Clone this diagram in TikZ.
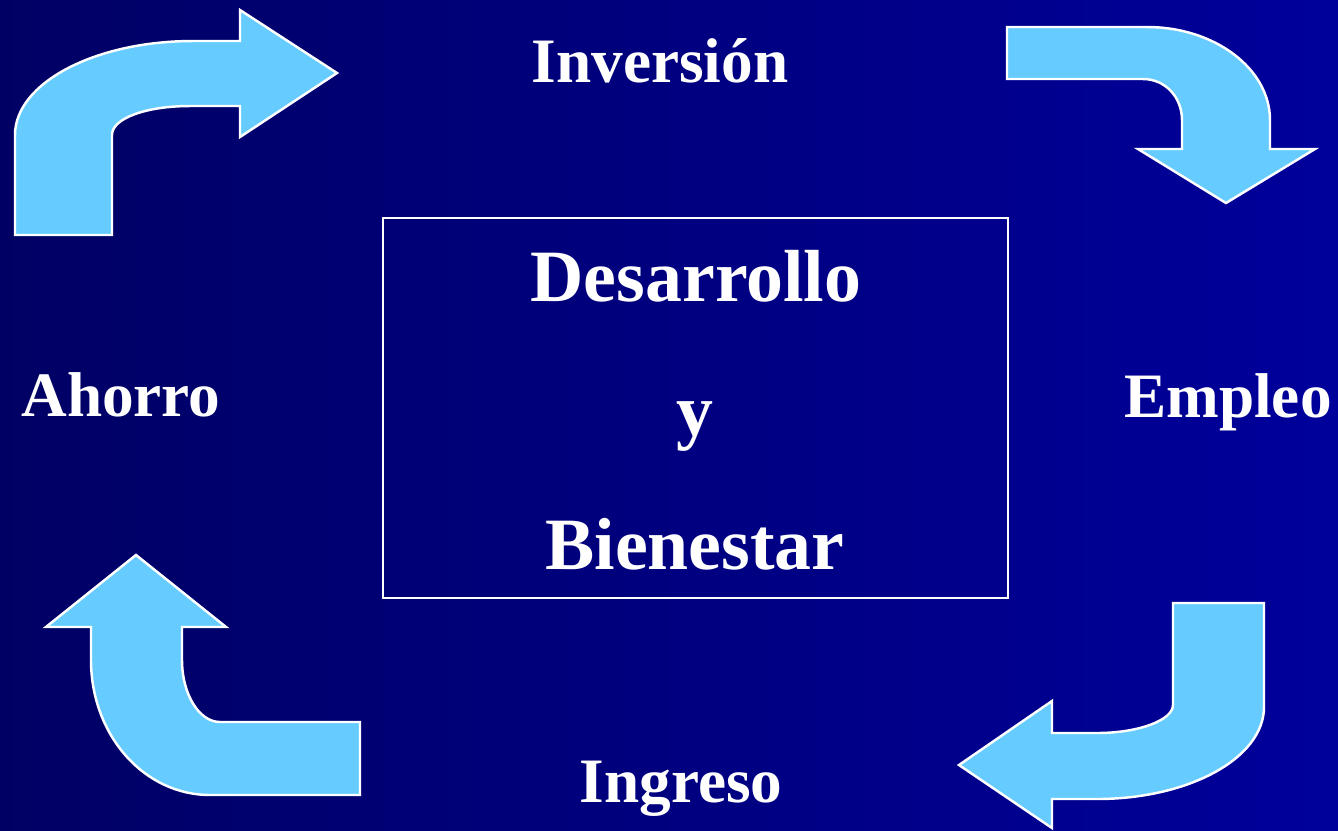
\documentclass[tikz,border=0pt]{standalone}
\usepackage{fontspec}
\setmainfont{Liberation Serif}
\usepackage{xcolor}
\usepackage{tikz}
\usetikzlibrary{positioning}
\definecolor{bgleft}{RGB}{0,0,100}
\definecolor{bgright}{RGB}{0,0,155}
\definecolor{arrowblue}{RGB}{102,204,255}
\tikzstyle{bent} = [fill=arrowblue, draw=white, line width=0.7pt, line join=miter]
\tikzstyle{label} = [text=white, anchor=base, font=\fontsize{18}{20}\selectfont\bfseries]
\tikzstyle{title} = [text=white, anchor=base, font=\fontsize{21}{24}\selectfont\bfseries]
\tikzstyle{frame} = [rectangle, draw=white, line width=0.7pt, minimum width=6.25cm, minimum height=3.8cm]

\begin{document}
\begin{tikzpicture}
		\shade[left color=bgleft, right color=bgright] (0,0) rectangle (13.38,-8.30);
		\useasboundingbox (0,0) rectangle (13.38,-8.30);
		
		\node (box) [frame] at (6.955,-4.08) {};
		\node (des) [title] at (6.96,-3.01) {Desarrollo};
		\node (y) [title] at (6.95,-4.35) {y};
		\node (bie) [title] at (6.95,-5.69) {Bienestar};
		
		\node (inv) [label] at (6.60,-0.82) {Inversión};
		\node (emp) [label] at (12.28,-4.17) {Empleo};
		\node (ing) [label] at (6.81,-8.02) {Ingreso};
		\node (aho) [label] at (1.21,-4.16) {Ahorro};
		
		%flechas curvas
		\draw [bent] (0.15,-2.35) -- (0.15,-1.35) .. controls (0.15,-0.83) and (0.95,-0.41) .. (1.93,-0.41)
			-- (2.40,-0.41) -- (2.40,-0.10) -- (3.37,-0.73) -- (2.40,-1.37) -- (2.40,-1.06) -- (1.90,-1.06)
			.. controls (1.47,-1.06) and (1.12,-1.18) .. (1.12,-1.35) -- (1.12,-2.35) -- cycle;
		\draw [bent] (10.07,-0.27) -- (11.47,-0.27) .. controls (12.15,-0.27) and (12.70,-0.69) .. (12.70,-1.20)
			-- (12.70,-1.49) -- (13.15,-1.49) -- (12.26,-2.03) -- (11.38,-1.49) -- (11.82,-1.49) -- (11.82,-1.20)
			.. controls (11.82,-0.97) and (11.65,-0.79) .. (11.43,-0.79) -- (10.07,-0.79) -- cycle;
		\draw [bent] (11.73,-6.03) -- (12.64,-6.03) -- (12.64,-7.07) .. controls (12.64,-7.58) and (11.89,-7.99) .. (10.97,-7.99)
			-- (10.52,-7.99) -- (10.52,-8.28) -- (9.59,-7.65) -- (10.52,-7.01) -- (10.52,-7.33) -- (10.97,-7.33)
			.. controls (11.39,-7.33) and (11.73,-7.20) .. (11.73,-7.05) -- cycle;
		\draw [bent] (3.60,-7.22) -- (3.60,-7.95) -- (2.10,-7.95) .. controls (1.44,-7.95) and (0.91,-7.35) .. (0.91,-6.60)
			-- (0.91,-6.27) -- (0.46,-6.27) -- (1.36,-5.55) -- (2.26,-6.27) -- (1.82,-6.27) -- (1.82,-6.60)
			.. controls (1.82,-6.94) and (1.99,-7.22) .. (2.20,-7.22) -- cycle;
		
	\end{tikzpicture}
\end{document}
